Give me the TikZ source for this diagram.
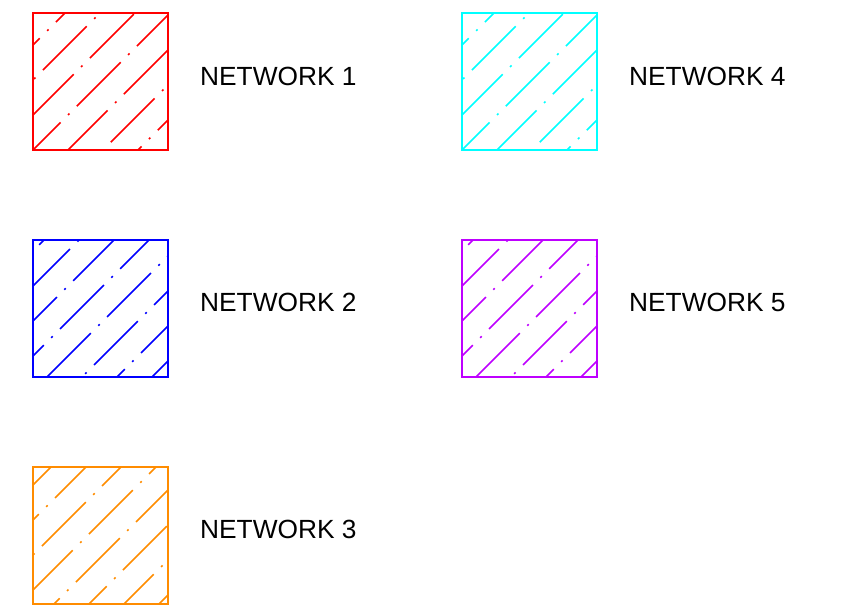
\documentclass[tikz,border=0pt]{standalone}
\usepackage{fontspec}
\setmainfont{Liberation Sans}
\usetikzlibrary{calc}
\definecolor{netred}{RGB}{255,0,0}
\definecolor{netblue}{RGB}{0,0,255}
\definecolor{netorange}{RGB}{255,140,0}
\definecolor{netcyan}{RGB}{0,255,255}
\definecolor{netpurple}{RGB}{190,0,255}
\begin{document}
\begin{tikzpicture}[x=1pt,y=-1pt,
  netbox/.style n args={3}{draw=#1, line width=1.9pt, minimum width=135pt, minimum height=137pt,
    inner sep=0pt, outer sep=0pt,
    path picture={
      \foreach \k in {-5,...,5} {
        \pgfmathsetmacro{\ph}{mod(#3-17*\k+850,85)}
        \draw[#1, line width=1.7pt, dash pattern=on 62pt off 10.5pt on 2pt off 10.5pt,
              dash phase=\ph pt]
          ($(path picture bounding box.south west)+(#2+\k*35,0)$) -- ++(220,-220);
      }
    }},
  netlabel/.style={anchor=west, inner sep=0pt, font=\fontsize{26.3}{31}\selectfont}]
\useasboundingbox (0,0) rectangle (848,608);
\node[netbox={netred}{0}{23}]     (b1) at (100.5,81.5)  {};
\node[netbox={netblue}{14}{0}]    (b2) at (100.5,308.5) {};
\node[netbox={netorange}{21}{54}] (b3) at (100.5,535.5) {};
\node[netbox={netcyan}{0}{23}]    (b4) at (529.5,81.5)  {};
\node[netbox={netpurple}{14}{0}]  (b5) at (529.5,308.5) {};
\node[netlabel] (l1) at (200,76)  {NETWORK 1};
\node[netlabel] (l2) at (200,302) {NETWORK 2};
\node[netlabel] (l3) at (200,529) {NETWORK 3};
\node[netlabel] (l4) at (629,76)  {NETWORK 4};
\node[netlabel] (l5) at (629,302) {NETWORK 5};
\end{tikzpicture}
\end{document}
